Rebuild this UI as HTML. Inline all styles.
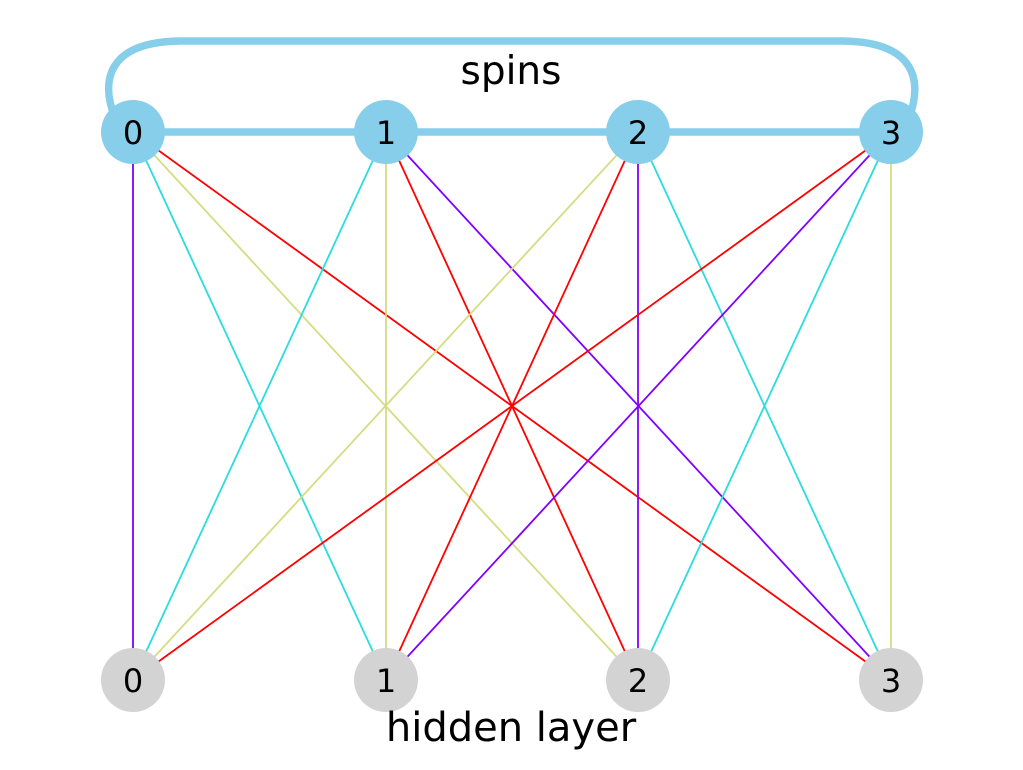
<!DOCTYPE html>
<html><head><meta charset="utf-8"><style>body{margin:0;background:#fff}</style></head><body>
<svg width="1023" height="765" viewBox="0 0 1023 765" xmlns="http://www.w3.org/2000/svg" font-family="DejaVu Sans, sans-serif">
<g stroke-width="1.8" fill="none">
<line x1="133" y1="132" x2="133" y2="680" stroke="#8000ff"/>
<line x1="133" y1="132" x2="386" y2="680" stroke="#2adddd"/>
<line x1="133" y1="132" x2="638" y2="680" stroke="#d4dd80"/>
<line x1="133" y1="132" x2="891" y2="680" stroke="#ff0000"/>
<line x1="386" y1="132" x2="133" y2="680" stroke="#2adddd"/>
<line x1="386" y1="132" x2="386" y2="680" stroke="#d4dd80"/>
<line x1="386" y1="132" x2="638" y2="680" stroke="#ff0000"/>
<line x1="386" y1="132" x2="891" y2="680" stroke="#8000ff"/>
<line x1="638" y1="132" x2="133" y2="680" stroke="#d4dd80"/>
<line x1="638" y1="132" x2="386" y2="680" stroke="#ff0000"/>
<line x1="638" y1="132" x2="638" y2="680" stroke="#8000ff"/>
<line x1="638" y1="132" x2="891" y2="680" stroke="#2adddd"/>
<line x1="891" y1="132" x2="133" y2="680" stroke="#ff0000"/>
<line x1="891" y1="132" x2="386" y2="680" stroke="#8000ff"/>
<line x1="891" y1="132" x2="638" y2="680" stroke="#2adddd"/>
<line x1="891" y1="132" x2="891" y2="680" stroke="#d4dd80"/>
</g>
<g stroke="#87ceeb" stroke-width="7.5" fill="none">
<line x1="133" y1="132" x2="891" y2="132"/>
<path d="M115 118 C100 80 108 42 180 41 L843 41 C915 42 923 80 909 118"/>
</g>
<g fill="#87ceeb"><circle cx="133" cy="132" r="32"/><circle cx="386" cy="132" r="32"/><circle cx="638" cy="132" r="32"/><circle cx="891" cy="132" r="32"/></g>
<g fill="#d3d3d3"><circle cx="133" cy="680" r="32"/><circle cx="386" cy="680" r="32"/><circle cx="638" cy="680" r="32"/><circle cx="891" cy="680" r="32"/></g>
<g font-size="32" text-anchor="middle" fill="#000">
<text x="133" y="144">0</text><text x="386" y="144">1</text><text x="638" y="144">2</text><text x="891" y="144">3</text>
<text x="133" y="692">0</text><text x="386" y="692">1</text><text x="638" y="692">2</text><text x="891" y="692">3</text>
</g>
<text x="511" y="84" font-size="39" text-anchor="middle">spins</text>
<text x="511" y="741" font-size="40" text-anchor="middle">hidden layer</text>
</svg>
</body></html>
